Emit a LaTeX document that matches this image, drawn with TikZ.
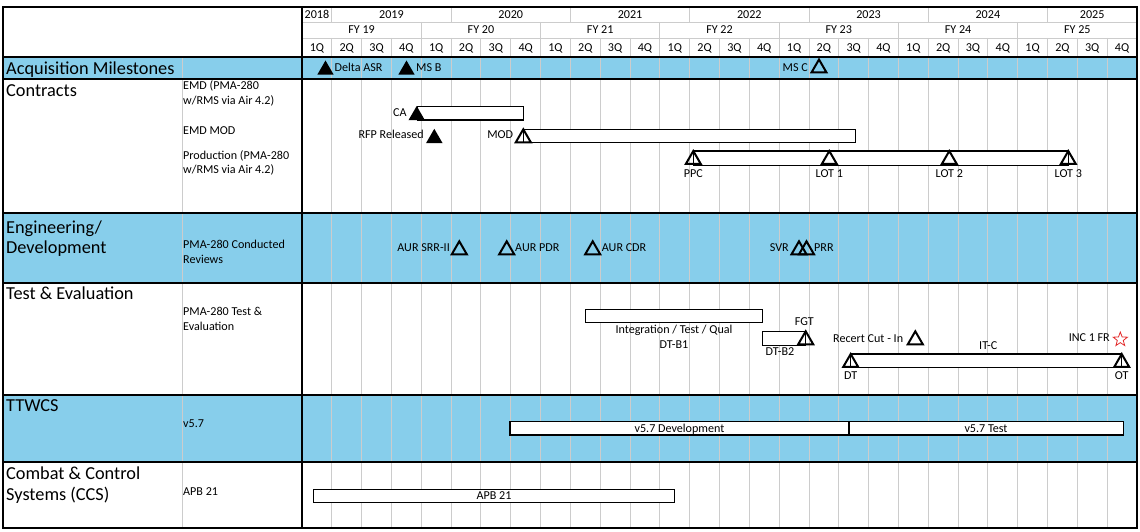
\documentclass[tikz,border=0pt]{standalone}
\usepackage{fontspec}
\setmainfont{Carlito}
\usetikzlibrary{shapes.geometric}
\definecolor{rowblue}{RGB}{135,206,235}
\definecolor{gridgray}{RGB}{204,204,204}
\definecolor{starred}{RGB}{226,42,42}
\tikzset{
  big/.style={font=\fontsize{18.3}{21}\selectfont, inner sep=0pt, anchor=base west},
  small/.style={font=\fontsize{12.1}{15}\selectfont, inner sep=0pt},
  gridline/.style={gridgray, line width=0.9pt},
  frame/.style={black, line width=1.2pt},
  bar/.style={draw=black, fill=white, line width=1.2pt},
  msfull/.style={regular polygon, regular polygon sides=3, minimum size=19pt,
    inner sep=0pt, outer sep=0pt, anchor=corner 1, fill=black},
  msopen/.style={regular polygon, regular polygon sides=3, minimum size=17.3pt,
    inner sep=0pt, outer sep=0pt, anchor=corner 1, draw=black, line width=2pt},
}
\begin{document}
\begin{tikzpicture}[x=1pt,y=-1pt]
  \def\xo{302}\def\qw{29.82}
  \useasboundingbox (0,0) rectangle (1140,532);
  % shaded rows
  \fill[rowblue] (3,57) rectangle (1137,79);
  \fill[rowblue] (3,213) rectangle (1137,283);
  \fill[rowblue] (3,395) rectangle (1137,462);
  % grid
  \foreach \i in {1,...,27} \draw[gridline] ({\xo+\i*\qw},38) -- ({\xo+\i*\qw},528);
  \foreach \i in {4,8,...,24} \draw[gridline] ({\xo+\i*\qw},22) -- ({\xo+\i*\qw},38);
  \foreach \i in {1,5,...,25} \draw[gridline] ({\xo+\i*\qw},7) -- ({\xo+\i*\qw},22);
  \draw[gridline] (\xo,22) -- (1137,22);
  \draw[gridline] (\xo,38) -- (1137,38);
  \draw[gridline] (182,57) -- (182,528);
  \draw[frame] (3,7) rectangle (1137,528);
  \draw[frame] (\xo,7) -- (\xo,528);
  \foreach \y in {57,79,213,283,395,462} \draw[frame] (3,\y) -- (1137,\y);
  % header
  \node[small, anchor=base] (y2018) at ({\xo+0.5*\qw},18.4) {2018};
  \foreach \k [count=\j from 0] in {2019,...,2024}
    \node[small, anchor=base] (y\k) at ({\xo+(3+4*\j)*\qw},18.4) {\k};
  \node[small, anchor=base] (y2025) at ({\xo+26.5*\qw},18.4) {2025};
  \foreach \k [count=\j from 0] in {19,...,25}
    \node[small, anchor=base] (fy\k) at ({\xo+(2+4*\j)*\qw},34) {FY \k};
  \foreach \i in {0,...,27} {
    \pgfmathtruncatemacro\q{mod(\i,4)+1}
    \node[small, anchor=base] (q\i) at ({\xo+(\i+0.5)*\qw},51.4) {\q Q};
  }
  % row titles
  \node[big] (tacq) at (6,74.5) {Acquisition Milestones};
  \node[big] (tcon) at (6,96.5) {Contracts};
  \node[big] (teng) at (6,233) {Engineering/};
  \node[big] (tdev) at (6,253) {Development};
  \node[big] (tte) at (6,299) {Test \& Evaluation};
  \node[big] (ttw) at (6,411) {TTWCS};
  \node[big] (tccs) at (6,479) {Combat \& Control};
  \node[big] (tsys) at (6,500) {Systems (CCS)};
  % sub titles
  \node[small, anchor=base west] (semd) at (183,89.5) {EMD (PMA-280};
  \node[small, anchor=base west] (semdb) at (183,104.5) {w/RMS via Air 4.2)};
  \node[small, anchor=base west] (smod) at (183,135) {EMD MOD};
  \node[small, anchor=base west] (sprod) at (183,159) {Production (PMA-280};
  \node[small, anchor=base west] (sprodb) at (183,173) {w/RMS via Air 4.2)};
  \node[small, anchor=base west] (srev) at (183,248) {PMA-280 Conducted};
  \node[small, anchor=base west] (srevb) at (183,263) {Reviews};
  \node[small, anchor=base west] (ste) at (183,315) {PMA-280 Test \&};
  \node[small, anchor=base west] (steb) at (183,330) {Evaluation};
  \node[small, anchor=base west] (sv) at (183,427) {v5.7};
  \node[small, anchor=base west] (sapb) at (183,495) {APB 21};
  % bars
  \draw[bar] (417.3,106.7) rectangle (523.3,120);
  \draw[bar] (523.3,129.3) rectangle (855.3,142.7);
  \draw[bar] (693.3,151) rectangle (1068.3,165.3);
  \draw[bar] (585.3,309.7) rectangle (762.5,322.3);
  \draw[bar] (762.5,331.3) rectangle (805.7,345.3);
  \draw[bar] (850.7,354) rectangle (1121.7,367.5);
  \draw[bar] (510,421.5) rectangle (849,435);
  \draw[bar] (849,421.5) rectangle (1123.5,435);
  \draw[bar] (313.5,489.3) rectangle (674.4,502.3);
  % milestones
  \node[msfull] (delta) at (325.5,60.5) {};
  \node[msfull] (msb) at (406.5,60.5) {};
  \node[msopen] (msc) at (819,59.5) {};
  \node[msfull] (ca) at (416.7,106) {};
  \node[msfull] (rfp) at (434.3,128.8) {};
  \node[msopen] (mod) at (523.3,129.3) {};
  \node[msopen] (ppc) at (693.3,151) {};
  \node[msopen] (lot1) at (829.3,151) {};
  \node[msopen] (lot2) at (949.3,151) {};
  \node[msopen] (lot3) at (1068.3,151) {};
  \node[msopen] (srr) at (459.3,241.3) {};
  \node[msopen] (pdr) at (506.7,241.3) {};
  \node[msopen] (cdr) at (592.7,241.3) {};
  \node[msopen] (svr) at (799,241.3) {};
  \node[msopen] (prr) at (806.5,241.3) {};
  \node[msopen] (fgt) at (805.7,331.3) {};
  \node[msopen] (recert) at (915.3,331.3) {};
  \node[msopen] (dt) at (850.7,354) {};
  \node[msopen] (ot) at (1121.7,354) {};
  \node[star, star points=5, star point ratio=2.4, draw=starred, line width=0.8pt,
    minimum size=15pt, inner sep=0pt] (incfr) at (1120.3,339.5) {};
  % milestone labels
  \node[small, anchor=base west] (ldelta) at (334.5,72) {Delta ASR};
  \node[small, anchor=base west] (lmsb) at (416,72) {MS B};
  \node[small, anchor=base east] (lmsc) at (808,72) {MS C};
  \node[small, anchor=base east] (lca) at (406.7,117) {CA};
  \node[small, anchor=base east] (lrfp) at (424,139) {RFP Released};
  \node[small, anchor=base east] (lmod) at (513.3,139) {MOD};
  \node[small, anchor=base] (lppc) at (693.3,177) {PPC};
  \node[small, anchor=base] (llot1) at (829.3,177) {LOT 1};
  \node[small, anchor=base] (llot2) at (949.3,177) {LOT 2};
  \node[small, anchor=base] (llot3) at (1068.3,177) {LOT 3};
  \node[small, anchor=base east] (lsrr) at (450,251) {AUR SRR-II};
  \node[small, anchor=base west] (lpdr) at (515,251) {AUR PDR};
  \node[small, anchor=base west] (lcdr) at (601.7,251) {AUR CDR};
  \node[small, anchor=base east] (lsvr) at (789,251) {SVR};
  \node[small, anchor=base west] (lprr) at (814,251) {PRR};
  \node[small, anchor=base] (litq) at (674,333.6) {Integration / Test / Qual};
  \node[small, anchor=base] (ldtb1) at (674,348) {DT-B1};
  \node[small, anchor=base] (lfgt) at (804.3,325.2) {FGT};
  \node[small, anchor=base] (ldtb2) at (780,355.2) {DT-B2};
  \node[small, anchor=base east] (lrecert) at (903.3,342) {Recert Cut - In};
  \node[small, anchor=base] (litc) at (988.3,349.2) {IT-C};
  \node[small, anchor=base] (ldt) at (850.7,379.6) {DT};
  \node[small, anchor=base] (lot) at (1121.7,379.6) {OT};
  \node[small, anchor=base east] (linc) at (1110,341) {INC 1 FR};
  \node[small, anchor=base] (lvdev) at (679.5,432) {v5.7 Development};
  \node[small, anchor=base] (lvtest) at (986,432) {v5.7 Test};
  \node[small, anchor=base] (lapb) at (494,499.4) {APB 21};
\end{tikzpicture}
\end{document}
